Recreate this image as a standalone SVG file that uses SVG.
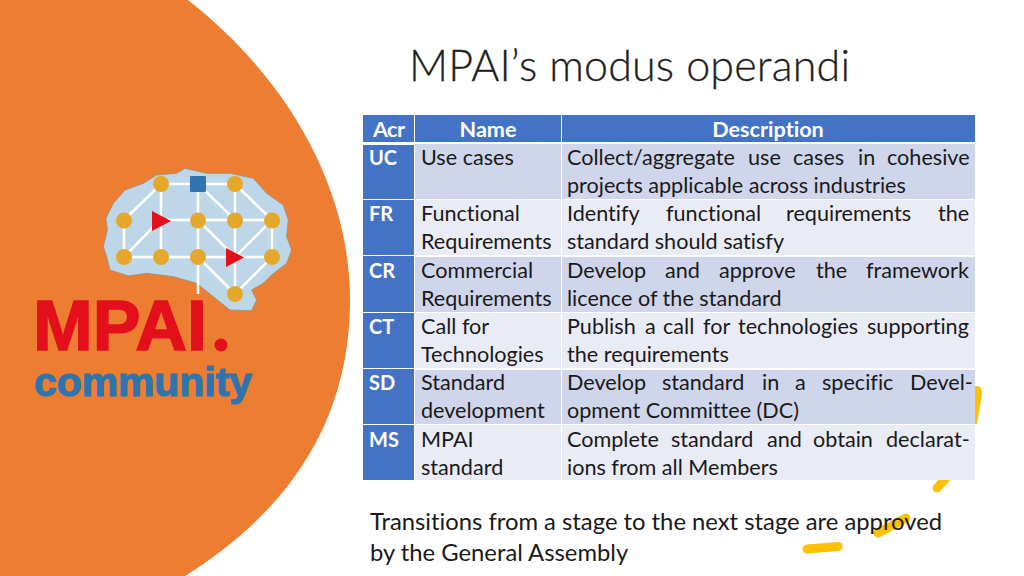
<svg xmlns="http://www.w3.org/2000/svg" width="1024" height="576" viewBox="0 0 1024 576">
<style>
text{font-family:Lato,"Open Sans","Liberation Sans",sans-serif;fill:#1a1a1a;font-variant-ligatures:none}
.t{font-size:21.6px}
.h{font-size:21.6px;font-weight:700;fill:#fff}
.a{font-size:20px;font-weight:700;fill:#fff}
.hm{text-anchor:middle}
.l{stroke:#fff;stroke-width:2.500;fill:none}
.n{fill:#e5a82a}
.m{stroke:#ffc000;stroke-width:9;stroke-linecap:round;fill:none}
.lg{font-family:"Liberation Sans",sans-serif;font-weight:700}
.nt{font-size:23.8px}
</style>
<rect width="1024" height="576" fill="#fff"/>
<g id="marks">
<path d="M970 386L978 386Q982 387 982 394L977 424L970 424Z" fill="#ffc000"/>
<path class="m" d="M937 488L948 476"/>
<path class="m" d="M807 549L838 546.500"/>
<path class="m" d="M878 533L906 518"/>
</g>
<path id="circle" d="M0 0H188C290 80 350 190 350 300C350 420 290 510 185 576H0Z" fill="#ed7d31"/>
<g id="brain">
<path transform="translate(0,150) scale(.3333)" d="M318 205L340 160L375 120L430 100L470 75L530 70L555 55L620 70L690 70L760 85L800 130L850 165L865 210L860 260L875 300L860 340L815 375L790 400L755 420L770 450L755 482L690 480L640 440L590 400L520 380L440 370L385 378L330 360L320 320L310 290L322 240Z" fill="#bdd7e9" stroke="#9a8f7c" stroke-width="2.500"/>
<path class="l" d="M161 184H235M161 184L124 220V257H272V220H160M161 184V257M124 257L160 220M198 184V294M235 184V294M198 184L235 220M235 184L272 220M272 220L235 257M198 257L235 294L272 257M198 220L235 257"/>
<g class="n">
<circle cx="161" cy="184" r="8"/><circle cx="235" cy="184" r="8"/>
<circle cx="124" cy="220.500" r="8"/><circle cx="198" cy="220.500" r="8"/><circle cx="235" cy="220.500" r="8"/><circle cx="272" cy="220.500" r="8"/>
<circle cx="124" cy="257" r="8"/><circle cx="161" cy="257" r="8"/><circle cx="198" cy="257" r="8"/><circle cx="272" cy="257" r="8"/>
<circle cx="235" cy="294" r="8"/>
</g>
<rect x="190" y="176" width="16" height="16" rx="1" fill="#2e75b0"/>
<path d="M152 211L171 221L152 231Z" fill="#e3101c"/>
<path d="M226 248L244 257.500L226 267Z" fill="#e3101c"/>
</g>
<g id="logo">
<text class="lg" x="33" y="350" font-size="70" style="fill:#e3101c;stroke:#e3101c;stroke-width:1.500" textLength="174" lengthAdjust="spacingAndGlyphs">MPAI</text>
<circle cx="221" cy="345" r="6.500" fill="#e3101c"/>
<text class="lg" x="34" y="396" font-size="40" style="fill:#2e75b0;stroke:#2e75b0;stroke-width:1.200" textLength="218" lengthAdjust="spacingAndGlyphs">community</text>
</g>
<text id="title" x="409" y="81" font-size="43" font-weight="300" style="fill:#1f1f1f;stroke:#1f1f1f;stroke-width:.3" textLength="441">MPAI’s modus operandi</text>
<g id="table">
<rect x="363" y="115" width="51" height="27" fill="#4472c4"/><rect x="415" y="115" width="146" height="27" fill="#4472c4"/><rect x="562" y="115" width="413" height="27" fill="#4472c4"/>
<rect x="363" y="145" width="51" height="335" fill="#4472c4"/>
<path d="M363 199.500H414M363 255.500H414M363 312.500H414M363 368.500H414M363 424.500H414" stroke="#fff" stroke-width="1"/>
<g fill="#cfd5ea">
<rect x="415" y="144" width="146" height="55"/><rect x="562" y="144" width="413" height="55"/>
<rect x="415" y="257" width="146" height="55"/><rect x="562" y="257" width="413" height="55"/>
<rect x="415" y="370" width="146" height="54"/><rect x="562" y="370" width="413" height="54"/>
</g>
<g fill="#e9ebf5">
<rect x="415" y="200" width="146" height="55"/><rect x="562" y="200" width="413" height="55"/>
<rect x="415" y="313" width="146" height="55"/><rect x="562" y="313" width="413" height="55"/>
<rect x="415" y="425" width="146" height="55"/><rect x="562" y="425" width="413" height="55"/>
</g>
<text class="h" x="373" y="137" textLength="32">Acr</text><text class="h hm" x="488" y="137">Name</text><text class="h hm" x="768" y="137">Description</text>
<text class="a" x="369" y="165">UC</text><text class="a" x="369" y="221">FR</text><text class="a" x="369" y="278">CR</text><text class="a" x="369" y="334">CT</text><text class="a" x="369" y="390">SD</text><text class="a" x="369" y="447">MS</text>
<text class="t" x="421" y="165">Use cases</text>
<text class="t" x="421" y="221">Functional</text><text class="t" x="421" y="249">Requirements</text>
<text class="t" x="421" y="278">Commercial</text><text class="t" x="421" y="306">Requirements</text>
<text class="t" x="421" y="334">Call for</text><text class="t" x="421" y="362">Technologies</text>
<text class="t" x="421" y="390">Standard</text><text class="t" x="421" y="418">development</text>
<text class="t" x="421" y="447">MPAI</text><text class="t" x="421" y="475">standard</text>
<text class="t" x="567" y="165">Collect/aggregate <tspan x="748">use</tspan> <tspan x="793">cases</tspan> <tspan x="858">in</tspan> <tspan x="887">cohesive</tspan></text>
<text class="t" x="567" y="193">projects applicable across industries</text>
<text class="t" x="567" y="221">Identify <tspan x="666">functional</tspan> <tspan x="786">requirements</tspan> <tspan x="938">the</tspan></text>
<text class="t" x="567" y="249">standard should satisfy</text>
<text class="t" x="567" y="278">Develop <tspan x="665">and</tspan> <tspan x="719">approve</tspan> <tspan x="816">the</tspan> <tspan x="866">framework</tspan></text>
<text class="t" x="567" y="306">licence of the standard</text>
<text class="t" x="567" y="334">Publish <tspan x="645">a</tspan> <tspan x="663">call</tspan> <tspan x="703">for</tspan> <tspan x="738">technologies</tspan> <tspan x="867">supporting</tspan></text>
<text class="t" x="567" y="362">the requirements</text>
<text class="t" x="567" y="390">Develop <tspan x="662">standard</tspan> <tspan x="762">in</tspan> <tspan x="795">a</tspan> <tspan x="822">specific</tspan> <tspan x="910">Devel-</tspan></text>
<text class="t" x="567" y="418">opment Committee (DC)</text>
<text class="t" x="567" y="447">Complete <tspan x="671">standard</tspan> <tspan x="767">and</tspan> <tspan x="813">obtain</tspan> <tspan x="886">declarat-</tspan></text>
<text class="t" x="567" y="475">ions from all Members</text>
</g>
<g id="note">
<text class="nt" x="370" y="530">Transitions from a stage to the next stage are approved</text>
<text class="nt" x="370" y="561">by the General Assembly</text>
</g>
</svg>
